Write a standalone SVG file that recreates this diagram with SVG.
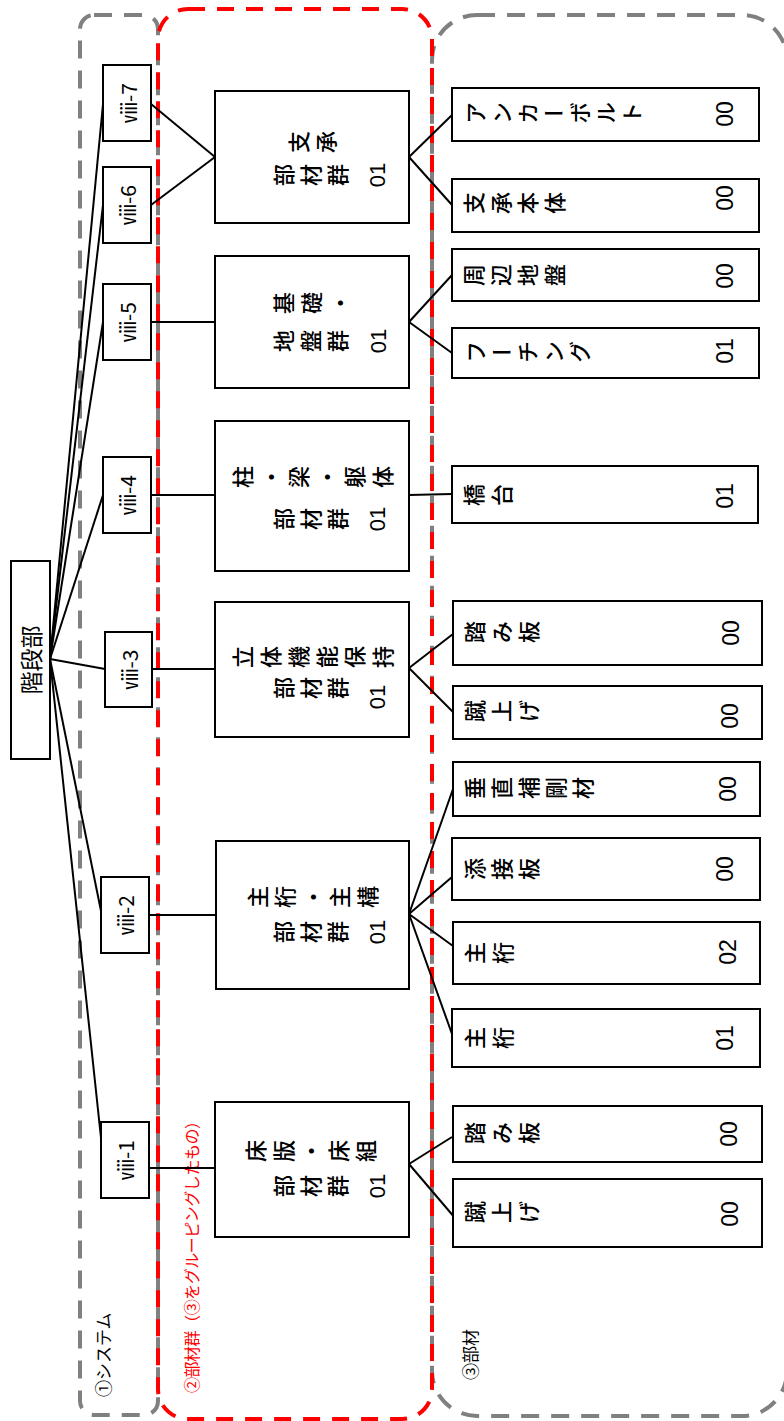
<svg xmlns="http://www.w3.org/2000/svg" width="784" height="1421" viewBox="0 0 784 1421">
<style>
.box{fill:#fff;stroke:#000;stroke-width:2}
.ln{stroke:#000;stroke-width:2;fill:none}
.cg{fill:none;stroke:#808080;stroke-width:4;stroke-dasharray:18 12}
.cr{fill:none;stroke:#ff0000;stroke-width:4;stroke-dasharray:17 12}
.v{font-family:"Noto Sans CJK JP",sans-serif;font-size:22px;font-weight:500;writing-mode:vertical-rl;text-orientation:upright;fill:#000}
.r{font-family:"Noto Sans CJK JP",sans-serif;text-anchor:middle;dominant-baseline:central;fill:#000}
.d{font-family:"Liberation Sans",Arial,sans-serif;text-anchor:middle;dominant-baseline:central;fill:#000}
.lb{font-family:"Noto Sans CJK JP",sans-serif;font-size:17px;dominant-baseline:central}
</style>
<rect fill="#fff" x="0" y="0" width="784" height="1421"/>
<g id="containers">
<rect class="cg" x="80" y="15" width="78" height="1400" rx="14"/>
<rect class="cg" x="432" y="15" width="355" height="1401" rx="45"/>
<rect class="cr" x="158" y="9" width="274" height="1410" rx="30"/>
<text class="lb" transform="rotate(-90 102 1397)" x="102" y="1397">①システム</text>
<text class="lb" transform="rotate(-90 191 1393)" x="191" y="1393" fill="#ff0000" style="font-size:16px" textLength="280">②部材群（③をグルーピングしたもの）</text>
<text class="lb" transform="rotate(-90 469 1380)" x="469" y="1380">③部材</text>
</g>
<g id="connectors">
<line class="ln" x1="50" y1="659" x2="103" y2="104"/>
<line class="ln" x1="50" y1="659" x2="103" y2="205"/>
<line class="ln" x1="50" y1="659" x2="103" y2="322"/>
<line class="ln" x1="50" y1="659" x2="103" y2="495"/>
<line class="ln" x1="50" y1="659" x2="105" y2="669"/>
<line class="ln" x1="50" y1="659" x2="101" y2="911"/>
<line class="ln" x1="50" y1="659" x2="101" y2="1138"/>
<line class="ln" x1="151" y1="104" x2="215" y2="157"/>
<line class="ln" x1="151" y1="205" x2="215" y2="157"/>
<line class="ln" x1="151" y1="322" x2="215" y2="322"/>
<line class="ln" x1="151" y1="495" x2="215" y2="495"/>
<line class="ln" x1="152" y1="669" x2="215" y2="669"/>
<line class="ln" x1="149" y1="915" x2="216" y2="915"/>
<line class="ln" x1="149" y1="1168" x2="215" y2="1168"/>
<line class="ln" x1="409" y1="157" x2="452" y2="115"/>
<line class="ln" x1="409" y1="157" x2="452" y2="205"/>
<line class="ln" x1="409" y1="322" x2="452" y2="275"/>
<line class="ln" x1="409" y1="322" x2="452" y2="353"/>
<line class="ln" x1="409" y1="495" x2="452" y2="494"/>
<line class="ln" x1="409" y1="668" x2="453" y2="634"/>
<line class="ln" x1="409" y1="668" x2="453" y2="712"/>
<line class="ln" x1="409" y1="914" x2="453" y2="789"/>
<line class="ln" x1="409" y1="914" x2="452" y2="877"/>
<line class="ln" x1="409" y1="914" x2="453" y2="946"/>
<line class="ln" x1="409" y1="914" x2="452" y2="1034"/>
<line class="ln" x1="409" y1="1164" x2="452" y2="1137"/>
<line class="ln" x1="409" y1="1164" x2="455" y2="1218"/>
</g>
<g id="root">
<rect class="box" x="11" y="561" width="39" height="198"/>
<text class="r" style="font-size:23px" transform="rotate(-90 30 660)" x="30" y="660">階段部</text>
</g>
<g id="viii-7"><rect class="box" x="103" y="65" width="48" height="76"/><text class="r" style="font-size:21px" transform="rotate(-90 128 103)" x="128" y="103">ⅷ-7</text></g>
<g id="viii-6"><rect class="box" x="103" y="167" width="48" height="76"/><text class="r" style="font-size:21px" transform="rotate(-90 127 205)" x="127" y="205">ⅷ-6</text></g>
<g id="viii-5"><rect class="box" x="103" y="284" width="48" height="76"/><text class="r" style="font-size:21px" transform="rotate(-90 127 322)" x="127" y="322">ⅷ-5</text></g>
<g id="viii-4"><rect class="box" x="103" y="457" width="48" height="76"/><text class="r" style="font-size:21px" transform="rotate(-90 127 495)" x="127" y="495">ⅷ-4</text></g>
<g id="viii-3"><rect class="box" x="105" y="632" width="47" height="75"/><text class="r" style="font-size:21px" transform="rotate(-90 128.5 669.5)" x="128.5" y="669.5">ⅷ-3</text></g>
<g id="viii-2"><rect class="box" x="101" y="877" width="48" height="76"/><text class="r" style="font-size:21px" transform="rotate(-90 125 915)" x="125" y="915">ⅷ-2</text></g>
<g id="viii-1"><rect class="box" x="101" y="1122" width="48" height="76"/><text class="r" style="font-size:21px" transform="rotate(-90 125 1160)" x="125" y="1160">ⅷ-1</text></g>

<g id="g-shisho"><rect class="box" x="215" y="91" width="194" height="132"/>
<text class="v" letter-spacing="5" transform="rotate(-90 288 142)" x="288" y="142">支承</text>
<text class="v" letter-spacing="5" transform="rotate(-90 273 175)" x="273" y="175">部材群</text>
<text class="d" style="font-size:22px" transform="rotate(-90 377 175)" x="377" y="175">01</text></g>
<g id="g-kiso"><rect class="box" x="215" y="256" width="194" height="132"/>
<text class="v" letter-spacing="6" transform="rotate(-90 273 303)" x="273" y="303">基礎・</text>
<text class="v" letter-spacing="5" transform="rotate(-90 273 341)" x="273" y="341">地盤群</text>
<text class="d" style="font-size:22px" transform="rotate(-90 378 341)" x="378" y="341">01</text></g>
<g id="g-hashira"><rect class="box" x="215" y="421" width="194" height="150"/>
<text class="v" letter-spacing="6" transform="rotate(-90 231.5 477)" x="231.5" y="477">柱・梁・躯体</text>
<text class="v" letter-spacing="5" transform="rotate(-90 273 519)" x="273" y="519">部材群</text>
<text class="d" style="font-size:22px" transform="rotate(-90 377 519)" x="377" y="519">01</text></g>
<g id="g-rittai"><rect class="box" x="215" y="602" width="194" height="135"/>
<text class="v" letter-spacing="6" transform="rotate(-90 232 657)" x="232" y="657">立体機能保持</text>
<text class="v" letter-spacing="5" transform="rotate(-90 273 688)" x="273" y="688">部材群</text>
<text class="d" style="font-size:22px" transform="rotate(-90 377 697)" x="377" y="697">01</text></g>
<g id="g-shugeta"><rect class="box" x="216" y="841" width="193" height="148"/>
<text class="v" letter-spacing="5.5" transform="rotate(-90 246.5 897)" x="246.5" y="897">主桁・主構</text>
<text class="v" letter-spacing="5" transform="rotate(-90 273 932)" x="273" y="932">部材群</text>
<text class="d" style="font-size:22px" transform="rotate(-90 377 932)" x="377" y="932">01</text></g>
<g id="g-shoban"><rect class="box" x="215" y="1102" width="194" height="135"/>
<text class="v" letter-spacing="5.5" transform="rotate(-90 245 1151)" x="245" y="1151">床版・床組</text>
<text class="v" letter-spacing="5" transform="rotate(-90 273 1186)" x="273" y="1186">部材群</text>
<text class="d" style="font-size:22px" transform="rotate(-90 377 1186)" x="377" y="1186">01</text></g>

<g id="p-anchor"><rect class="box" x="452" y="88" width="307" height="53"/>
<text class="v" letter-spacing="4" transform="rotate(-90 465 113)" x="465" y="113">アンカーボルト</text>
<text class="d" style="font-size:23px" transform="rotate(-90 725 114)" x="725" y="114">00</text></g>
<g id="p-shishohontai"><rect class="box" x="452" y="179" width="307" height="53"/>
<text class="v" letter-spacing="5" transform="rotate(-90 463 203)" x="463" y="203">支承本体</text>
<text class="d" style="font-size:23px" transform="rotate(-90 725 198)" x="725" y="198">00</text></g>
<g id="p-shuhen"><rect class="box" x="452" y="249" width="307" height="52"/>
<text class="v" letter-spacing="5" transform="rotate(-90 463 275)" x="463" y="275">周辺地盤</text>
<text class="d" style="font-size:23px" transform="rotate(-90 725 276)" x="725" y="276">00</text></g>
<g id="p-footing"><rect class="box" x="452" y="328" width="307" height="50"/>
<text class="v" letter-spacing="4" transform="rotate(-90 465 352)" x="465" y="352">フーチング</text>
<text class="d" style="font-size:23px" transform="rotate(-90 725 351)" x="725" y="351">01</text></g>
<g id="p-kyodai"><rect class="box" x="452" y="466" width="306" height="57"/>
<text class="v" letter-spacing="6" transform="rotate(-90 463 495)" x="463" y="495">橋台</text>
<text class="d" style="font-size:23px" transform="rotate(-90 725 496)" x="725" y="496">01</text></g>
<g id="p-fumiita1"><rect class="box" x="453" y="601" width="309" height="64"/>
<text class="v" letter-spacing="5" transform="rotate(-90 464 632)" x="464" y="632">踏み板</text>
<text class="d" style="font-size:23px" transform="rotate(-90 731 633)" x="731" y="633">00</text></g>
<g id="p-keage1"><rect class="box" x="453" y="686" width="309" height="53"/>
<text class="v" letter-spacing="5" transform="rotate(-90 464 711)" x="464" y="711">蹴上げ</text>
<text class="d" style="font-size:23px" transform="rotate(-90 730 716)" x="730" y="716">00</text></g>
<g id="p-suichoku"><rect class="box" x="453" y="762" width="307" height="54"/>
<text class="v" letter-spacing="5" transform="rotate(-90 464 788)" x="464" y="788">垂直補剛材</text>
<text class="d" style="font-size:23px" transform="rotate(-90 728 789)" x="728" y="789">00</text></g>
<g id="p-tensetsu"><rect class="box" x="452" y="838" width="308" height="62"/>
<text class="v" letter-spacing="5" transform="rotate(-90 464 869)" x="464" y="869">添接板</text>
<text class="d" style="font-size:23px" transform="rotate(-90 725 869)" x="725" y="869">00</text></g>
<g id="p-shugeta2"><rect class="box" x="453" y="922" width="307" height="62"/>
<text class="v" letter-spacing="6" transform="rotate(-90 464 953)" x="464" y="953">主桁</text>
<text class="d" style="font-size:23px" transform="rotate(-90 728 952)" x="728" y="952">02</text></g>
<g id="p-shugeta1"><rect class="box" x="452" y="1009" width="308" height="58"/>
<text class="v" letter-spacing="6" transform="rotate(-90 464 1038)" x="464" y="1038">主桁</text>
<text class="d" style="font-size:23px" transform="rotate(-90 725 1038)" x="725" y="1038">01</text></g>
<g id="p-fumiita2"><rect class="box" x="453" y="1106" width="309" height="56"/>
<text class="v" letter-spacing="5" transform="rotate(-90 464 1133)" x="464" y="1133">踏み板</text>
<text class="d" style="font-size:23px" transform="rotate(-90 729 1134)" x="729" y="1134">00</text></g>
<g id="p-keage2"><rect class="box" x="453" y="1179" width="309" height="68"/>
<text class="v" letter-spacing="5" transform="rotate(-90 464 1212)" x="464" y="1212">蹴上げ</text>
<text class="d" style="font-size:23px" transform="rotate(-90 730 1214)" x="730" y="1214">00</text></g>
</svg>
